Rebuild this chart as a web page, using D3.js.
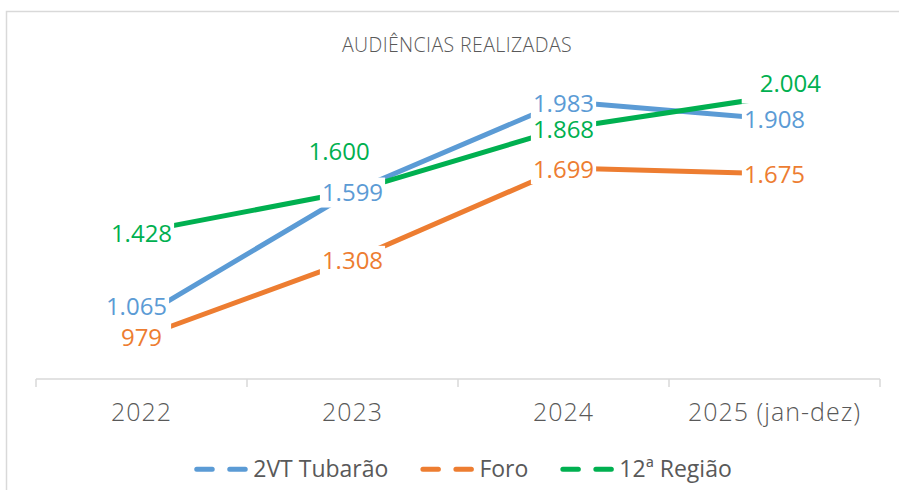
<!DOCTYPE html>
<html>
<head>
<meta charset="utf-8">
<script src="https://cdn.jsdelivr.net/npm/d3@7/dist/d3.min.js"></script>
<style>
  html, body { margin: 0; padding: 0; background: #ffffff; }
  svg { display: block; }
</style>
</head>
<body>
<svg id="chart" width="899" height="490"></svg>
<script>
// ---- data ----
const categories = ["2022", "2023", "2024", "2025 (jan-dez)"];
const seriesNames = ["2VT Tubarão", "Foro", "12ª Região"];
const tubarao = [1065, 1599, 1983, 1908];
const foro = [979, 1308, 1699, 1675];
const regiao = [1428, 1600, 1868, 2004];
const titleText = "AUDIÊNCIAS REALIZADAS";

// ---- styling / layout ----
const colors = ["#5B9BD5", "#ED7D31", "#00B050"];
const W = 899, H = 490;
const plot = { left: 36, right: 880, top: 74, bottom: 379 };
const yDomain = [800, 2100];
// label placement tweaks (text-centre offset from point, extra box padding)
const labelTweaks = {
  "0-0": { dx: -5, dy: -10.5 },
  "0-2": { dy: 2 },
  "0-3": { dy: 0 },
  "1-0": { dy: 0, padR: 9 },
  "2-0": { dy: 2 },
  "2-1": { dx: -13.3, dy: -39.4 },
  "2-3": { dx: 15.8, dy: -13, padL: 18, padB: 5 }
};

const fmt = d3.formatLocale({ decimal: ",", thousands: ".", grouping: [3], currency: ["", ""] }).format(",d");
const seriesValues = [tubarao, foro, regiao];

const svg = d3.select("#chart");
const FONT = "'Open Sans', 'Noto Sans', sans-serif";

// border
svg.append("path")
  .attr("d", `M6.5,${H} L6.5,11.5 L${W},11.5`)
  .attr("fill", "none").attr("stroke", "#d9d9d9").attr("stroke-width", 1.5);

// title
svg.append("text")
  .attr("x", 457).attr("y", 52.3)
  .attr("text-anchor", "middle")
  .attr("font-family", FONT).attr("font-size", 19.5).attr("font-weight", 300)
  .attr("letter-spacing", 0.4)
  .attr("fill", "#595959")
  .text(titleText);

const x = d3.scaleBand().domain(categories).range([plot.left, plot.right]).padding(0);
const y = d3.scaleLinear().domain(yDomain).range([plot.bottom, plot.top]);
const cx = c => x(c) + x.bandwidth() / 2;

// category axis
const axis = d3.axisBottom(x).tickSize(0).tickPadding(0);
const gAxis = svg.append("g").attr("transform", `translate(0,${plot.bottom})`).call(axis);
gAxis.select(".domain").remove();
gAxis.selectAll(".tick text").remove();
svg.append("line")
  .attr("x1", plot.left).attr("x2", plot.right)
  .attr("y1", plot.bottom).attr("y2", plot.bottom)
  .attr("stroke", "#d9d9d9").attr("stroke-width", 1.5);
const bounds = categories.map(c => x(c)).concat([plot.right]);
svg.append("g").selectAll("line").data(bounds).join("line")
  .attr("x1", d => d).attr("x2", d => d)
  .attr("y1", plot.bottom).attr("y2", plot.bottom + 8)
  .attr("stroke", "#d9d9d9").attr("stroke-width", 1.5);
svg.append("g").selectAll("text").data(categories).join("text")
  .attr("x", d => cx(d)).attr("y", 421)
  .attr("text-anchor", "middle")
  .attr("font-family", FONT).attr("font-size", 25).attr("font-weight", 300)
  .attr("letter-spacing", 1)
  .attr("fill", "#595959")
  .text(d => d);

// lines
const line = d3.line().x(d => cx(d.c)).y(d => y(d.v));
seriesValues.forEach((vals, si) => {
  svg.append("path")
    .datum(vals.map((v, i) => ({ c: categories[i], v })))
    .attr("d", line)
    .attr("fill", "none")
    .attr("stroke", colors[si])
    .attr("stroke-width", 5)
    .attr("stroke-linejoin", "round");
});

// data labels (white boxes then text)
const LFS = 24, CAP = LFS * 0.714;
const labels = [];
seriesValues.forEach((vals, si) => {
  vals.forEach((v, i) => {
    const t = labelTweaks[`${si}-${i}`] || {};
    labels.push({
      si, v,
      tx: cx(categories[i]) + (t.dx || 0),
      tc: y(v) + (t.dy !== undefined ? t.dy : 1),
      padL: t.padL || 2, padR: t.padR || 2, padB: t.padB || 0
    });
  });
});
const gBoxes = svg.append("g");
const gTexts = svg.append("g");
labels.forEach(d => {
  const txt = gTexts.append("text")
    .attr("x", d.tx).attr("y", d.tc + CAP / 2)
    .attr("text-anchor", "middle")
    .attr("font-family", FONT).attr("font-size", LFS)
    .attr("fill", colors[d.si])
    .text(fmt(d.v));
  const w = txt.node().getComputedTextLength();
  gBoxes.append("rect")
    .attr("x", d.tx - w / 2 - d.padL)
    .attr("y", d.tc - 15)
    .attr("width", w + d.padL + d.padR)
    .attr("height", 30 + d.padB)
    .attr("fill", "#ffffff");
});

// legend
const legend = svg.append("g");
let lx = 0;
const legendY = 469.3;
seriesNames.forEach((name, si) => {
  const g = legend.append("g").attr("transform", `translate(${lx},0)`);
  g.append("line")
    .attr("x1", 2.5).attr("x2", 53)
    .attr("y1", legendY).attr("y2", legendY)
    .attr("stroke", colors[si]).attr("stroke-width", 5)
    .attr("stroke-linecap", "round")
    .attr("stroke-dasharray", "15.5,17.5");
  const t = g.append("text")
    .attr("x", 59).attr("y", 477.3)
    .attr("font-family", FONT).attr("font-size", 23)
    .attr("fill", "#595959")
    .text(name);
  lx += 59 + t.node().getComputedTextLength() + 32;
});
const totalW = lx - 32;
legend.attr("transform", `translate(${463 - totalW / 2},0)`);
</script>
</body>
</html>
